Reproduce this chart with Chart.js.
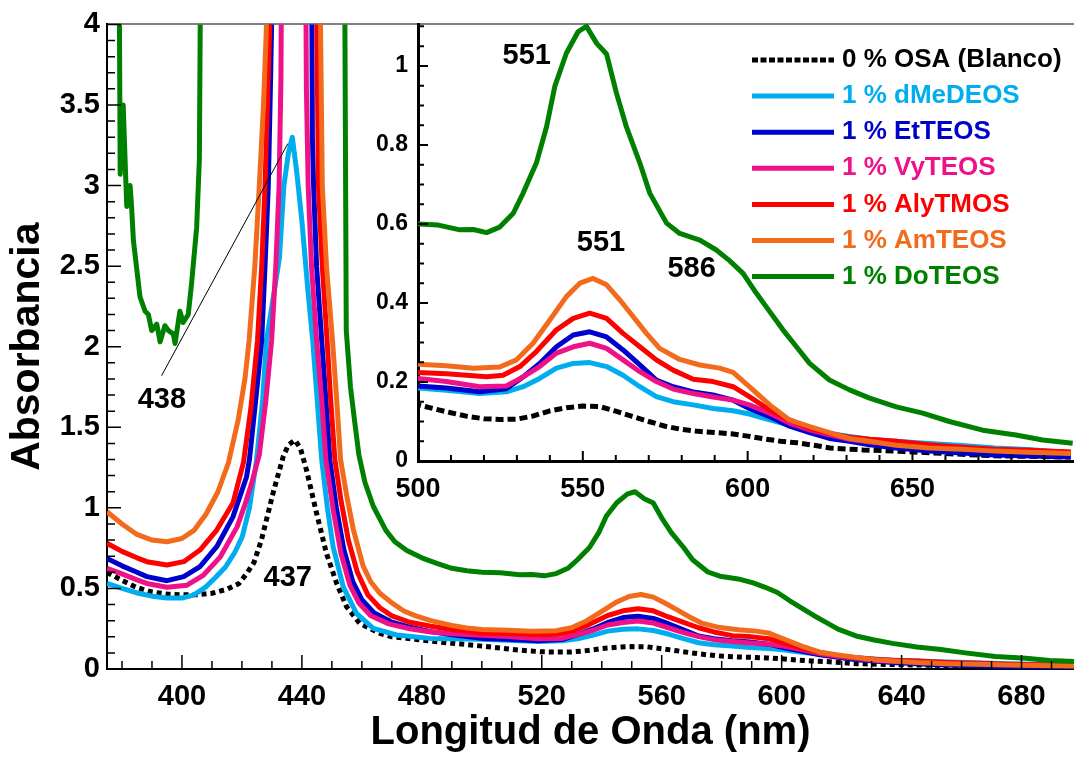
<!DOCTYPE html>
<html lang="es">
<head>
  <meta charset="UTF-8">
  <title>Absorbancia vs Longitud de Onda</title>
  <script src="https://cdn.jsdelivr.net/npm/chart.js"></script>
  <style>
    body { margin: 0; background: #fff; }
    #wrap { position: relative; width: 1074px; height: 759px; }
    #mainChart { position: absolute; left: 0; top: 0; }
    #insetChart { position: absolute; left: 360px; top: 0; }
  </style>
</head>
<body>
  <div id="wrap">
    <canvas id="mainChart" width="1074" height="759"></canvas>
    <canvas id="insetChart" width="714" height="520"></canvas>
  </div>

  <script>
    // spectra (wavelength nm / absorbance)
    const wlBlanco = [375, 380, 385, 390, 395, 400, 405, 410, 415, 419, 421.5, 424, 426.5, 430.5, 433.8, 435.5, 437.7, 439.5, 441.6, 444.9, 448.2, 451.6, 454.9, 459.3, 466, 470, 475, 482, 490, 495, 500, 505, 510, 515, 520, 525, 530, 535, 540, 545, 550, 555, 560, 565, 570, 575, 580, 585, 590, 595, 600, 605, 610, 615, 620, 625, 635, 645, 655, 665, 675, 685, 698];
    const absBlanco = [0.60, 0.55, 0.505, 0.478, 0.465, 0.46, 0.46, 0.47, 0.495, 0.53, 0.59, 0.66, 0.80, 1.10, 1.32, 1.39, 1.42, 1.37, 1.23, 0.966, 0.717, 0.531, 0.386, 0.283, 0.221, 0.20, 0.19, 0.175, 0.16, 0.152, 0.142, 0.132, 0.122, 0.113, 0.107, 0.105, 0.106, 0.114, 0.127, 0.135, 0.139, 0.138, 0.126, 0.113, 0.10, 0.088, 0.08, 0.075, 0.072, 0.069, 0.063, 0.056, 0.05, 0.046, 0.04, 0.033, 0.028, 0.025, 0.021, 0.017, 0.013, 0.012, 0.01];

    const wlDMe = [375, 380, 385, 390, 395, 400, 404, 408, 411, 414.6, 417.5, 420.1, 422.5, 424.9, 426.9, 428.2, 430.4, 432.5, 434, 435.5, 436.8, 438.3, 440, 442, 443.6, 445.1, 446.6, 448.5, 450.4, 453.8, 458.2, 463.8, 471.6, 482.7, 490, 500, 508.6, 518.7, 526.8, 531.9, 536.9, 542, 547.1, 552.1, 557.2, 562.2, 567.3, 572.3, 577.4, 583.5, 589.5, 595.6, 600.5, 606.7, 612.7, 618.8, 624.8, 630.9, 637, 645, 655, 665, 675, 685, 698];
    const absDMe = [0.531, 0.50, 0.472, 0.452, 0.44, 0.44, 0.46, 0.51, 0.565, 0.635, 0.72, 0.82, 1.0, 1.30, 1.67, 2.04, 2.30, 2.55, 3.0, 3.2, 3.30, 3.08, 2.78, 2.35, 2.04, 1.67, 1.30, 1.0, 0.76, 0.51, 0.345, 0.252, 0.211, 0.19, 0.187, 0.185, 0.179, 0.171, 0.175, 0.188, 0.209, 0.235, 0.247, 0.249, 0.239, 0.217, 0.188, 0.163, 0.150, 0.142, 0.133, 0.127, 0.119, 0.104, 0.091, 0.079, 0.07, 0.062, 0.055, 0.05, 0.044, 0.039, 0.033, 0.029, 0.021];

    const wlEt = [375, 380, 385, 388.3, 395, 400.6, 406, 411.6, 417, 421.5, 422.5, 424.6, 426.6, 427.7, 428.8, 429.6, 429.9, 430.3, 443.2, 443.5, 443.9, 444.9, 446.6, 448, 449.3, 451.5, 454, 457, 460, 464, 470, 476, 483, 490, 500, 508.6, 518.7, 526.8, 531.9, 536.9, 542, 547.1, 552.1, 557.2, 562.2, 567.3, 572.3, 577.4, 583.5, 589.5, 595.6, 600.5, 606.7, 612.7, 618.8, 624.8, 630.9, 637, 645, 655, 665, 675, 698];
    const absEt = [0.686, 0.64, 0.60, 0.573, 0.548, 0.573, 0.635, 0.759, 0.944, 1.19, 1.30, 1.67, 2.04, 2.5, 3.0, 3.7, 4.0, 4.6, 4.6, 3.3, 3.0, 2.5, 2.04, 1.67, 1.30, 1.0, 0.74, 0.54, 0.43, 0.35, 0.29, 0.26, 0.232, 0.212, 0.19, 0.185, 0.175, 0.183, 0.213, 0.247, 0.289, 0.319, 0.327, 0.314, 0.281, 0.243, 0.205, 0.188, 0.175, 0.167, 0.154, 0.133, 0.112, 0.088, 0.072, 0.057, 0.05, 0.041, 0.033, 0.025, 0.02, 0.015, 0.01];

    const wlVy = [375, 380, 385, 388.3, 395, 401.7, 407.2, 412.8, 418.4, 421, 423.5, 425.8, 428, 429.9, 431.3, 432.4, 433, 433.3, 441.2, 441.5, 442.1, 443.2, 444.9, 446.6, 448, 450.5, 453, 456, 459, 463, 469, 476, 483, 490, 500, 508.6, 518.7, 526.8, 531.9, 536.9, 542, 547.1, 552.1, 557.2, 562.2, 567.3, 572.3, 577.4, 583.5, 589.5, 595.6, 600.5, 606.7, 612.7, 618.8, 624.8, 630.9, 637, 650, 670, 698];
    const absVy = [0.624, 0.59, 0.553, 0.531, 0.507, 0.52, 0.583, 0.696, 0.882, 1.02, 1.17, 1.33, 1.67, 2.04, 2.5, 3.0, 3.65, 4.6, 4.6, 3.6, 3.0, 2.5, 2.04, 1.67, 1.30, 0.98, 0.72, 0.52, 0.41, 0.33, 0.28, 0.25, 0.23, 0.218, 0.209, 0.201, 0.188, 0.19, 0.213, 0.239, 0.273, 0.289, 0.298, 0.285, 0.256, 0.226, 0.201, 0.182, 0.171, 0.162, 0.154, 0.142, 0.121, 0.096, 0.079, 0.066, 0.055, 0.048, 0.04, 0.03, 0.022];

    const wlAly = [375, 380, 385, 388.3, 395, 400.6, 406, 411.6, 417, 420.5, 423, 425.2, 426.6, 427.7, 428.8, 429.3, 429.8, 444.6, 445, 445.5, 446.8, 448.4, 449.6, 451, 453, 455.5, 458.5, 462, 466, 470, 476, 483, 490, 500, 508.6, 520.8, 525.8, 530.9, 535.9, 542, 547.1, 552.1, 557.2, 562.2, 567.3, 572.3, 577.4, 583.5, 589.5, 595.6, 600.5, 606.7, 612.7, 618.8, 624.8, 630.9, 637, 645, 655, 665, 675, 685, 698];
    const absAly = [0.78, 0.73, 0.69, 0.666, 0.645, 0.666, 0.738, 0.862, 1.03, 1.28, 1.62, 2.04, 2.5, 3.0, 3.7, 4.0, 4.6, 4.6, 4.0, 3.0, 2.5, 2.04, 1.67, 1.30, 1.05, 0.80, 0.60, 0.46, 0.38, 0.33, 0.29, 0.265, 0.245, 0.224, 0.221, 0.213, 0.217, 0.239, 0.277, 0.332, 0.361, 0.374, 0.361, 0.323, 0.289, 0.256, 0.230, 0.207, 0.201, 0.188, 0.163, 0.129, 0.104, 0.083, 0.07, 0.06, 0.055, 0.05, 0.041, 0.035, 0.03, 0.027, 0.023];

    const wlAm = [375, 380, 385, 390, 395, 400, 404, 408, 412, 415.5, 418.8, 421, 422.4, 424.3, 425.8, 427.2, 428.2, 428.8, 445.6, 446.2, 446.8, 448.2, 450.2, 451.6, 452.9, 454.9, 457.1, 460.4, 463, 466, 470, 474, 478, 483, 490, 495, 500, 508.6, 516.8, 524.8, 529.9, 534.9, 540, 545, 549.1, 553.1, 557.2, 561.2, 565.3, 569.3, 573.3, 579.4, 585.5, 591.5, 595.6, 600.5, 606.7, 612.7, 618.8, 624.8, 630.9, 637, 645, 655, 665, 675, 685, 698];
    const absAm = [0.976, 0.90, 0.835, 0.80, 0.79, 0.81, 0.86, 0.96, 1.10, 1.28, 1.55, 1.80, 2.04, 2.5, 3.0, 3.5, 4.0, 4.6, 4.6, 4.0, 3.0, 2.5, 2.04, 1.67, 1.30, 1.08, 0.87, 0.64, 0.54, 0.47, 0.41, 0.36, 0.33, 0.30, 0.27, 0.255, 0.245, 0.241, 0.235, 0.238, 0.256, 0.298, 0.357, 0.416, 0.45, 0.462, 0.446, 0.408, 0.365, 0.323, 0.285, 0.257, 0.243, 0.235, 0.224, 0.188, 0.142, 0.104, 0.087, 0.072, 0.057, 0.05, 0.04, 0.033, 0.03, 0.025, 0.022, 0.019];

    const wlDo = [379, 379.4, 380.4, 381.2, 381.6, 382.7, 383.2, 383.8, 386, 387.7, 388.8, 389.9, 391.6, 392.7, 394.3, 395.5, 397.1, 397.7, 399.3, 400.4, 402.1, 403.2, 404.9, 405.8, 406.3, 454.2, 454.8, 456.2, 457.5, 459, 461, 463.8, 468, 471, 475, 480, 485, 490, 495, 500.1, 506.2, 512.7, 516.8, 520.8, 524.8, 528.9, 531.9, 535.9, 539, 541.5, 545, 548.6, 551.1, 554.2, 557.2, 560.2, 563.2, 567.3, 570.3, 575.4, 579.4, 585.5, 590.5, 594.5, 598.6, 602.6, 606.7, 610.7, 614.8, 618.8, 624.8, 630.9, 637, 645.1, 653.1, 661.2, 671.3, 681.4, 689.5, 698.6];
    const absDo = [4.6, 3.07, 3.5, 3.07, 2.87, 3.0, 2.87, 2.66, 2.31, 2.22, 2.2, 2.10, 2.14, 2.03, 2.13, 2.10, 2.08, 2.02, 2.22, 2.15, 2.2, 2.39, 2.74, 3.16, 4.6, 4.6, 2.1, 1.75, 1.55, 1.33, 1.16, 1.01, 0.86, 0.79, 0.735, 0.69, 0.655, 0.625, 0.61, 0.600, 0.597, 0.585, 0.586, 0.578, 0.592, 0.627, 0.678, 0.754, 0.846, 0.948, 1.032, 1.087, 1.10, 1.057, 1.03, 0.931, 0.846, 0.754, 0.678, 0.602, 0.576, 0.559, 0.534, 0.507, 0.475, 0.425, 0.378, 0.332, 0.289, 0.247, 0.205, 0.180, 0.159, 0.137, 0.121, 0.10, 0.078, 0.066, 0.053, 0.045];

    const seriesLabels = ['0 % OSA (Blanco)', '1 % dMeDEOS', '1 % EtTEOS', '1 % VyTEOS', '1 % AlyTMOS', '1 % AmTEOS', '1 % DoTEOS'];
    const seriesColors = ['#000000', '#00AEEF', '#0000CC', '#EE1188', '#FF0000', '#F26A1B', '#008000'];
    const seriesData = [[wlBlanco, absBlanco], [wlDMe, absDMe], [wlEt, absEt], [wlVy, absVy], [wlAly, absAly], [wlAm, absAm], [wlDo, absDo]];

    const mainXTicks = [400, 440, 480, 520, 560, 600, 640, 680];
    const mainYTicks = [0, 0.5, 1, 1.5, 2, 2.5, 3, 3.5, 4];
    const insetXTicks = [500, 550, 600, 650];
    const insetYTicks = [0, 0.2, 0.4, 0.6, 0.8, 1];

    const mainNotes = [
      { text: '438', x: 393.3, y: 1.67 },
      { text: '437', x: 435.3, y: 0.564 }
    ];
    const mainLeader = [[393.2, 1.82], [435.3, 3.26]];
    const insetNotes = [
      { text: '551', x: 533, y: 1.025 },
      { text: '551', x: 555.5, y: 0.552 },
      { text: '586', x: 583, y: 0.486 }
    ];

    Chart.defaults.font.family = '"Liberation Sans", Arial, Helvetica, sans-serif';
    Chart.defaults.font.weight = 'bold';
    Chart.defaults.color = '#000';

    function buildSets(dash) {
      return seriesData.map((s, i) => ({
        label: seriesLabels[i],
        data: s[0].map((x, j) => ({ x: x, y: s[1][j] })),
        borderColor: seriesColors[i],
        borderWidth: 5,
        borderDash: i === 0 ? dash : [],
        borderJoinStyle: 'round',
        pointRadius: 0,
        tension: 0,
        fill: false,
        order: seriesData.length - i
      }));
    }

    // tick marks pointing into the plot, with minor ticks
    const inwardTicks = {
      id: 'inwardTicks',
      afterDatasetsDraw(chart, args, o) {
        const { ctx, chartArea: a, scales: { x, y } } = chart;
        const marks = (scale, minor, major, cb) => {
          for (let i = Math.ceil(scale.min / minor - 1e-9); i * minor <= scale.max + 1e-9; i++) {
            const r = (i * minor) / major;
            cb(scale.getPixelForValue(i * minor), Math.abs(r - Math.round(r)) < 1e-6);
          }
        };
        ctx.save();
        ctx.strokeStyle = '#000';
        ctx.lineWidth = o.width;
        ctx.beginPath();
        marks(x, o.xMinor, o.xMajor, (p, big) => {
          ctx.moveTo(p, a.bottom);
          ctx.lineTo(p, a.bottom - (big ? o.majorLen : o.minorLen));
        });
        marks(y, o.yMinor, o.yMajor, (p, big) => {
          ctx.moveTo(a.left, p);
          ctx.lineTo(a.left + (big ? o.majorLen : o.minorLen), p);
        });
        ctx.stroke();
        ctx.restore();
      }
    };

    const notes = {
      id: 'notes',
      afterDraw(chart, args, o) {
        const { ctx, scales: { x, y } } = chart;
        ctx.save();
        if (o.leader) {
          ctx.strokeStyle = '#000';
          ctx.lineWidth = 1;
          ctx.beginPath();
          ctx.moveTo(x.getPixelForValue(o.leader[0][0]), y.getPixelForValue(o.leader[0][1]));
          ctx.lineTo(x.getPixelForValue(o.leader[1][0]), y.getPixelForValue(o.leader[1][1]));
          ctx.stroke();
        }
        ctx.fillStyle = '#000';
        ctx.font = o.font;
        ctx.textAlign = 'center';
        ctx.textBaseline = 'middle';
        o.items.forEach(n => ctx.fillText(n.text, x.getPixelForValue(n.x), y.getPixelForValue(n.y)));
        ctx.restore();
      }
    };

    const whiteArea = {
      id: 'whiteArea',
      beforeDraw(chart) {
        const { ctx, chartArea: a } = chart;
        ctx.save();
        ctx.fillStyle = '#fff';
        ctx.fillRect(a.left, a.top + 1.5, a.right - a.left, a.bottom - a.top - 1.5);
        ctx.restore();
      }
    };

    const insetLegend = {
      id: 'insetLegend',
      afterDraw(chart, args, o) {
        const ctx = chart.ctx;
        ctx.save();
        ctx.font = o.font;
        ctx.textBaseline = 'middle';
        chart.data.datasets.forEach((ds, i) => {
          const yy = o.top + i * o.rowGap;
          ctx.strokeStyle = ds.borderColor;
          ctx.lineWidth = ds.borderWidth;
          ctx.setLineDash(i === 0 ? o.dash : []);
          ctx.beginPath();
          ctx.moveTo(o.left, yy);
          ctx.lineTo(o.left + o.lineLen, yy);
          ctx.stroke();
          ctx.setLineDash([]);
          ctx.fillStyle = ds.borderColor;
          ctx.fillText(ds.label, o.left + o.lineLen + o.gap, yy);
        });
        ctx.restore();
      }
    };

    new Chart(document.getElementById('mainChart'), {
      type: 'line',
      data: { datasets: buildSets([5, 4]) },
      options: {
        responsive: false,
        animation: false,
        layout: { padding: { top: 24, right: 0, bottom: 0, left: 0 } },
        plugins: {
          legend: { display: false },
          tooltip: { enabled: false },
          inwardTicks: { width: 1.5, xMinor: 10, xMajor: 40, yMinor: 0.1, yMajor: 0.5, majorLen: 14, minorLen: 8 },
          notes: { font: 'bold 29px "Liberation Sans", Arial, sans-serif', items: mainNotes, leader: mainLeader }
        },
        scales: {
          x: {
            type: 'linear',
            min: 375,
            max: 697.5,
            afterBuildTicks: s => { s.ticks = mainXTicks.map(v => ({ value: v })); },
            afterFit: s => { s.height = 90; },
            grid: { display: false, drawTicks: false },
            border: { color: '#000', width: 2 },
            ticks: { autoSkip: false, maxRotation: 0, padding: 11, font: { size: 29 }, callback: v => String(v) },
            title: { display: true, text: 'Longitud de Onda (nm)', font: { size: 40 }, padding: { top: 0, bottom: 2 } }
          },
          y: {
            type: 'linear',
            min: 0,
            max: 4,
            afterBuildTicks: s => { s.ticks = mainYTicks.map(v => ({ value: v })); },
            afterFit: s => { s.width = 107; },
            grid: { color: c => (c.tick && c.tick.value === 4 ? '#808080' : 'rgba(0,0,0,0)'), lineWidth: 2, drawTicks: false },
            border: { color: '#000', width: 2 },
            ticks: { autoSkip: false, padding: 7, font: { size: 29 }, callback: v => String(v) },
            title: { display: true, text: 'Absorbancia', font: { size: 41 }, padding: { top: 3, bottom: 0 } }
          }
        }
      },
      plugins: [inwardTicks, notes]
    });

    new Chart(document.getElementById('insetChart'), {
      type: 'line',
      data: { datasets: buildSets([8, 4]) },
      options: {
        responsive: false,
        animation: false,
        layout: { padding: { top: 24, right: 0, bottom: 0, left: 0 } },
        plugins: {
          legend: { display: false },
          tooltip: { enabled: false },
          inwardTicks: { width: 2, xMinor: 10, xMajor: 50, yMinor: 0.05, yMajor: 0.2, majorLen: 10, minorLen: 6 },
          notes: { font: 'bold 29px "Liberation Sans", Arial, sans-serif', items: insetNotes },
          insetLegend: { font: 'bold 26px "Liberation Sans", Arial, sans-serif', left: 392, top: 60, rowGap: 36.1, lineLen: 82, gap: 8, dash: [6, 2.5] }
        },
        scales: {
          x: {
            type: 'linear',
            min: 500,
            max: 699,
            afterBuildTicks: s => { s.ticks = insetXTicks.map(v => ({ value: v })); },
            afterFit: s => { s.height = 59; },
            grid: { display: false, drawTicks: false },
            border: { color: '#000', width: 3 },
            ticks: { autoSkip: false, maxRotation: 0, padding: 12, font: { size: 27 }, callback: v => String(v) }
          },
          y: {
            type: 'linear',
            min: 0,
            max: 1.106,
            afterBuildTicks: s => { s.ticks = insetYTicks.map(v => ({ value: v })); },
            afterFit: s => { s.width = 58; },
            grid: { display: false, drawTicks: false },
            border: { color: '#000', width: 3 },
            ticks: { autoSkip: false, padding: 10, font: { size: 23 }, callback: v => String(v) }
          }
        }
      },
      plugins: [whiteArea, inwardTicks, notes, insetLegend]
    });
  </script>
</body>
</html>
